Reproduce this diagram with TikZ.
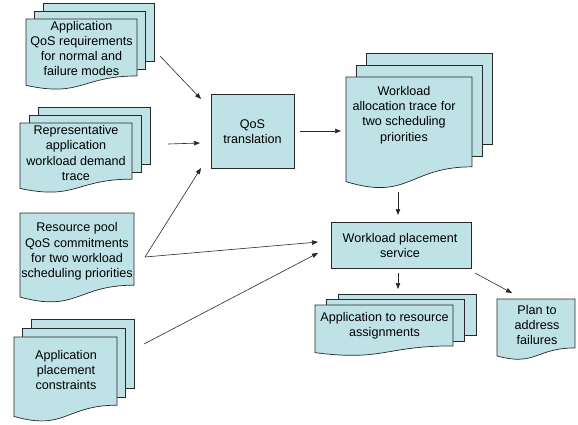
\documentclass[tikz,border=0pt]{standalone}
\usepackage{fontspec}
\setmainfont{Liberation Sans}
\usetikzlibrary{arrows.meta}
\definecolor{docfill}{RGB}{190,226,229}
\definecolor{edge}{RGB}{40,40,40}
\newcommand\docfront[4]{% x, top, width, height
  \filldraw[shapeline] (#1,#2) -- ({#1+#3},#2) -- ({#1+#3},{#2+0.802*#4})
    .. controls ({#1+0.5*#3},{#2+0.802*#4}) and ({#1+0.5*#3},{#2+1.107*#4}) .. (#1,{#2+0.934*#4}) -- cycle;}
\newcommand\docback[4]{% x, top, width, height
  \filldraw[shapeline] (#1,#2) rectangle ({#1+#3},{#2+0.82*#4});}
\begin{document}
\begin{tikzpicture}[x=1pt,y=-1pt,
  shapeline/.style={fill=docfill,draw=edge,line width=0.7pt},
  txt/.style={align=center,inner sep=0pt,font=\fontsize{12.6}{15.3}\selectfont},
  conn/.style={draw=edge,line width=0.6pt,-{Triangle[length=6pt,width=4.5pt]}}]
\useasboundingbox (0,0) rectangle (578,424);
% Doc 1
\docback{43}{3}{111}{71}
\docback{34.5}{11}{111}{71}
\docfront{26}{19}{111}{71}
\node[txt] (d1) at (81.5,48.5) {Application\\QoS requirements\\for normal and\\failure modes};
% Doc 2
\docback{38}{107}{112}{70}
\docback{29}{115}{112}{70}
\docfront{20}{123}{112}{70}
\node[txt] (d2) at (76,153) {Representative\\application\\workload demand\\trace};
% Doc 3
\docfront{20}{213}{114}{90}
\node[txt] (d3) at (77,251.5) {Resource pool\\QoS commitments\\for two workload\\scheduling priorities};
% Doc 4
\docback{31}{319}{103}{85}
\docback{22.5}{328}{103}{85}
\docfront{14}{337}{103}{85}
\node[txt] (d4) at (66,370) {Application\\placement\\constraints};
% QoS translation
\filldraw[shapeline] (211,94) rectangle (294,168);
\node[txt] (qos) at (252.5,131.5) {QoS\\translation};
% Workload allocation trace
\docback{366}{53}{126}{112}
\docback{356.5}{65}{126}{112}
\docfront{346}{77}{126}{112}
\node[txt] (wat) at (404,115) {Workload\\allocation trace for\\two scheduling\\priorities};
% Placement service
\filldraw[shapeline] (331,222) rectangle (471,268);
\node[txt] (wps) at (400,245.5) {Workload placement\\service};
% Application to resource assignments
\docback{338}{294}{138}{51}
\docback{326.5}{299.5}{138}{51}
\docfront{315}{305}{138}{51}
\node[txt] (ara) at (384.5,325.5) {Application to resource\\assignments};
% Plan to address failures
\docfront{497}{299}{78}{61}
\node[txt] (plan) at (537,325) {Plan to\\address\\failures};
% connector end points
\coordinate (a1s) at (160,56);   \coordinate (a1e) at (201,99);
\coordinate (a2s) at (168,144);  \coordinate (a2e) at (200,143);
\coordinate (a3s) at (145,257);  \coordinate (a3e) at (201,168);
\coordinate (a3f) at (318,242);
\coordinate (a4s) at (144,344);  \coordinate (a4e) at (318,253);
\coordinate (a5s) at (300,131);  \coordinate (a5e) at (341,131);
\coordinate (a6s) at (398,192);  \coordinate (a6e) at (398,215);
\coordinate (a7s) at (398,273);  \coordinate (a7e) at (398,289);
\coordinate (a8s) at (475,273);  \coordinate (a8e) at (512,293);
\draw[conn] (a1s) -- (a1e);
\draw[conn] (a2s) -- (a2e);
\draw[conn] (a3s) -- (a3e);
\draw[conn] (a3s) -- (a3f);
\draw[conn] (a4s) -- (a4e);
\draw[conn] (a5s) -- (a5e);
\draw[conn] (a6s) -- (a6e);
\draw[conn] (a7s) -- (a7e);
\draw[conn] (a8s) -- (a8e);
\end{tikzpicture}
\end{document}
